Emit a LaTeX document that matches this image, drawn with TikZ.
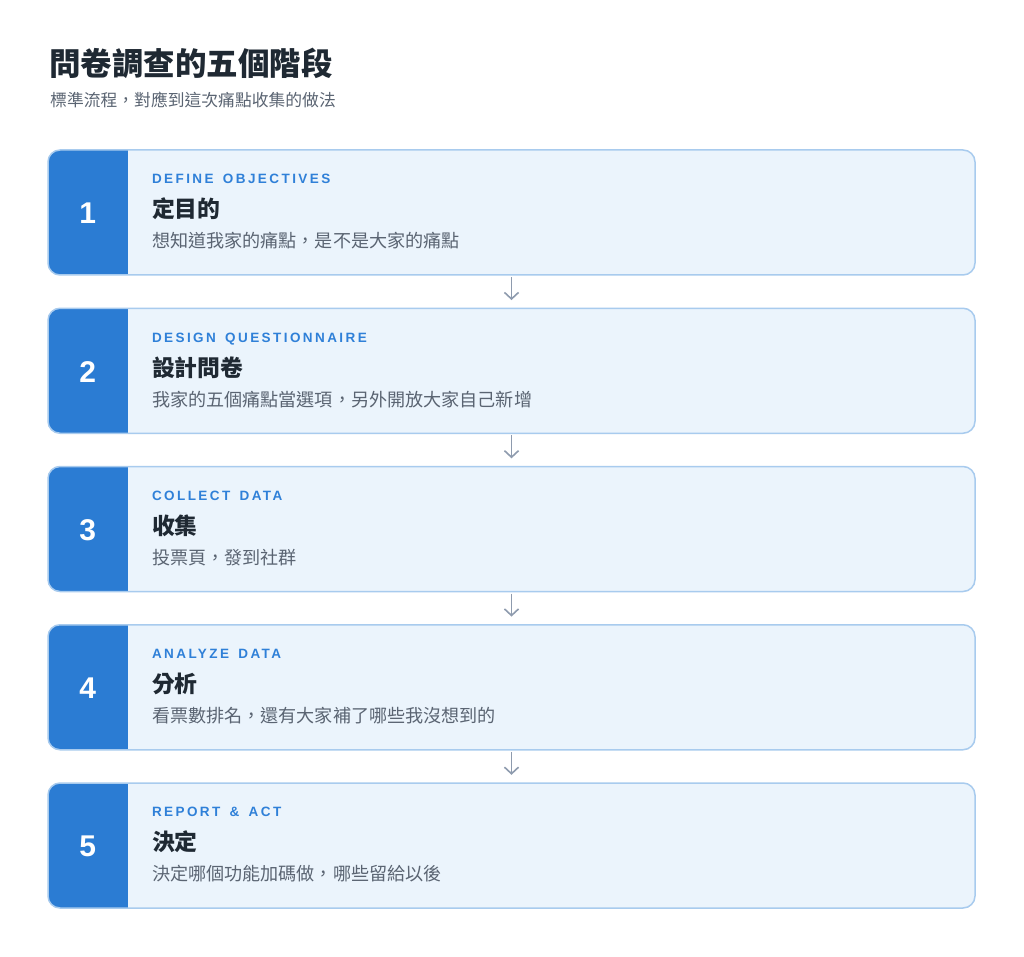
\documentclass[tikz,border=0pt]{standalone}
\usepackage{fontspec}
\setmainfont{Noto Sans CJK TC}
\newfontfamily\labelfont[LetterSpace=18,WordSpace=1.5]{Liberation Sans}
\newfontfamily\numfont{Liberation Sans}
\usetikzlibrary{arrows.meta,positioning}

\definecolor{stepblue}{HTML}{2B7CD3}
\definecolor{labelblue}{HTML}{2F80D8}
\definecolor{cardbg}{HTML}{EBF4FC}
\definecolor{cardline}{HTML}{A8CBEE}
\definecolor{inkdark}{HTML}{1F2933}
\definecolor{inkgray}{HTML}{5A6472}
\definecolor{arrowgray}{HTML}{8E9BAE}

\tikzset{
  card/.style={rectangle, rounded corners=12pt, minimum width=927pt, minimum height=125pt, inner sep=0pt},
  stepnum/.style={text=white, font=\numfont\bfseries\fontsize{30}{30}\selectfont},
  steplabel/.style={anchor=base west, inner sep=0pt, text=labelblue, font=\labelfont\bfseries\fontsize{13.5}{14}\selectfont},
  steptitle/.style={anchor=base west, inner sep=0pt, text=inkdark, font=\bfseries\fontsize{22.8}{23}\selectfont},
  stepdesc/.style={anchor=base west, inner sep=0pt, text=inkgray, font=\fontsize{18.1}{18}\selectfont},
  flow/.style={draw=arrowgray, line width=1.6pt, -{Straight Barb[length=6.5pt,width=14pt]}}
}

\begin{document}
\begin{tikzpicture}[x=1pt, y=-1pt]
\fill[white] (0,0) rectangle (1024,957);
\useasboundingbox (0,0) rectangle (1024,957);

% heading
\node[anchor=base west, inner sep=0pt, text=inkdark, font=\bfseries\fontsize{31.5}{32}\selectfont] (title) at (49,76) {問卷調查的五個階段};
\node[anchor=base west, inner sep=0pt, text=inkgray, font=\fontsize{16.8}{17}\selectfont] (subtitle) at (50,107) {標準流程，對應到這次痛點收集的做法};

% the five steps
\foreach \i/\lab/\ttl/\dsc in {
  1/DEFINE OBJECTIVES/定目的/想知道我家的痛點，是不是大家的痛點,
  2/DESIGN QUESTIONNAIRE/設計問卷/我家的五個痛點當選項，另外開放大家自己新增,
  3/COLLECT DATA/收集/投票頁，發到社群,
  4/ANALYZE DATA/分析/看票數排名，還有大家補了哪些我沒想到的,
  5/REPORT \& ACT/決定/決定哪個功能加碼做，哪些留給以後}{
  \node[card, fill=cardbg] (c\i) at (511.5,{212.5+(\i-1)*158.25}) {};
  \begin{scope}
    \clip[rounded corners=12pt] (c\i.north west) rectangle (c\i.south east);
    \fill[stepblue] (c\i.north west) rectangle ([xshift=80pt]c\i.south west);
  \end{scope}
  \node[card, draw=cardline, line width=1.5pt] at (c\i) {};
  \node[stepnum] (n\i) at ([xshift=40pt,yshift=-1pt]c\i.west) {\i};
  \node[steplabel] (l\i) at ([xshift=104pt,yshift=-34pt]c\i.north west) {\lab};
  \node[steptitle] (t\i) at ([xshift=104pt,yshift=-68pt]c\i.north west) {\ttl};
  \node[stepdesc] (d\i) at ([xshift=104pt,yshift=-98pt]c\i.north west) {\dsc};
}

% connectors
\foreach \i [evaluate=\i as \j using int(\i+1)] in {1,...,4}
  \draw[flow] ([yshift=-2pt]c\i.south) -- ([yshift=8pt]c\j.north);
\end{tikzpicture}
\end{document}
